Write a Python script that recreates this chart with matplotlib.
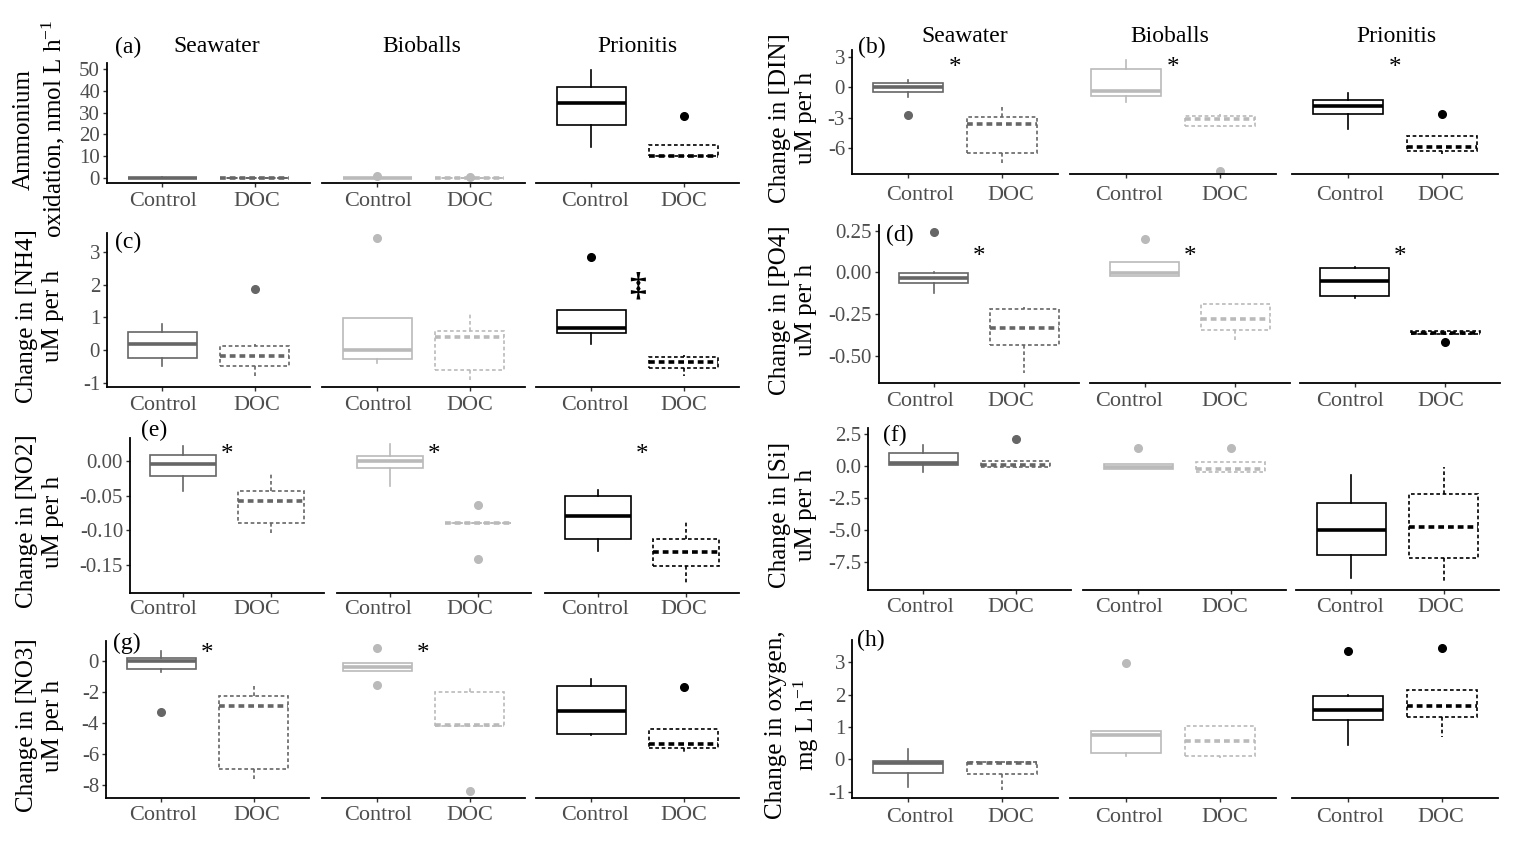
import matplotlib
matplotlib.use("Agg")
import matplotlib.pyplot as plt
from matplotlib.ticker import FormatStrFormatter

# serif text like the original figure, with a serif mathtext for the h^-1 exponents
plt.rcParams["font.family"] = ["Liberation Serif", "DejaVu Serif"]
plt.rcParams["mathtext.fontset"] = "custom"
plt.rcParams["mathtext.rm"] = "Liberation Serif"
plt.rcParams["mathtext.it"] = "Liberation Serif:italic"
plt.rcParams["mathtext.bf"] = "Liberation Serif:bold"
plt.rcParams["axes.unicode_minus"] = False

W, H = 1518, 843

GROUPS = ["Seawater", "Bioballs", "Prionitis"]
TREATMENTS = ["Control", "DOC"]

# Box rows: Seawater Control, Seawater DOC, Bioballs Control, Bioballs DOC,
# Prionitis Control, Prionitis DOC.  Columns: whisker low, q1, median, q3, whisker high
AMMOX_BOX = [
    [-0.2, -0.1, 0.0, 0.2, 0.3],
    [-0.2, -0.1, 0.0, 0.2, 0.3],
    [-0.2, -0.1, 0.0, 0.2, 0.3],
    [-0.2, -0.1, 0.0, 0.2, 0.3],
    [14.2, 24.1, 34.2, 41.8, 49.5],
    [10.0, 10.0, 10.3, 15.3, 15.3],
]
AMMOX_OUT = [[], [], [1.0], [0.5], [], [28.6]]
AMMOX_TICKS = [0, 10, 20, 30, 40, 50]

DIN_BOX = [
    [-0.93, -0.43, 0.0, 0.47, 0.73],
    [-7.6, -6.43, -3.6, -2.93, -1.87],
    [-1.43, -0.83, -0.33, 1.83, 2.73],
    [-3.9, -3.77, -3.1, -2.87, -2.6],
    [-4.1, -2.67, -1.87, -1.27, -0.53],
    [-6.53, -6.27, -5.83, -4.77, -4.77],
]
DIN_OUT = [[-2.77], [], [], [-8.27], [], [-2.6]]
DIN_TICKS = [-6, -3, 0, 3]
DIN_SIG = [(0, 2.5, "*"), (1, 2.5, "*"), (2, 2.5, "*")]

NH4_BOX = [
    [-0.49, -0.23, 0.18, 0.54, 0.8],
    [-0.84, -0.48, -0.18, 0.12, 0.2],
    [-0.39, -0.26, 0.0, 0.99, 0.99],
    [-0.92, -0.61, 0.39, 0.59, 1.14],
    [0.18, 0.53, 0.68, 1.24, 1.24],
    [-0.8, -0.56, -0.38, -0.22, -0.15],
]
NH4_OUT = [[], [1.88], [3.42], [], [2.84], []]
NH4_TICKS = [-1, 0, 1, 2, 3]
NH4_SIG = [(2, 1.95, "\u2021")]

PO4_BOX = [
    [-0.122, -0.062, -0.036, -0.006, 0.0],
    [-0.602, -0.436, -0.336, -0.222, -0.21],
    [-0.02, -0.02, -0.006, 0.06, 0.06],
    [-0.416, -0.346, -0.28, -0.19, -0.19],
    [-0.156, -0.142, -0.052, 0.024, 0.034],
    [-0.37, -0.37, -0.362, -0.35, -0.35],
]
PO4_OUT = [[0.244], [], [0.198], [], [], [-0.42]]
PO4_TICKS = [-0.5, -0.25, 0.0, 0.25]
PO4_SIG = [(0, 0.13, "*"), (1, 0.13, "*"), (2, 0.13, "*")]

NO2_BOX = [
    [-0.043, -0.021, -0.0043, 0.0087, 0.022],
    [-0.106, -0.09, -0.058, -0.044, -0.018],
    [-0.036, -0.0106, 0.0, 0.0077, 0.024],
    [-0.09, -0.09, -0.09, -0.09, -0.09],
    [-0.13, -0.1125, -0.08, -0.05, -0.042],
    [-0.178, -0.151, -0.131, -0.1125, -0.085],
]
NO2_OUT = [[], [], [], [-0.064, -0.141], [], []]
NO2_TICKS = [-0.15, -0.10, -0.05, 0.0]
NO2_SIG = [(0, 0.018, "*"), (1, 0.018, "*"), (2, 0.018, "*")]

SI_BOX = [
    [-0.52, 0.05, 0.18, 0.96, 1.6],
    [-0.16, -0.08, 0.05, 0.36, 0.36],
    [-0.26, -0.26, -0.08, 0.13, 0.13],
    [-0.47, -0.47, -0.26, 0.26, 0.26],
    [-8.7, -6.94, -5.0, -2.93, -0.73],
    [-9.15, -7.2, -4.74, -2.23, -0.08],
]
SI_OUT = [[], [2.07], [1.35], [1.35], [], []]
SI_TICKS = [-7.5, -5.0, -2.5, 0.0, 2.5]

NO3_BOX = [
    [-0.75, -0.54, -0.02, 0.15, 0.62],
    [-7.68, -6.97, -2.92, -2.25, -1.57],
    [-0.64, -0.64, -0.43, -0.17, -0.17],
    [-4.18, -4.18, -4.14, -2.0, -1.78],
    [-4.79, -4.72, -3.24, -1.63, -1.18],
    [-5.86, -5.64, -5.36, -4.4, -4.4],
]
NO3_OUT = [[-3.33], [], [0.79, -1.57], [-8.39], [], [-1.72]]
NO3_TICKS = [-8, -6, -4, -2, 0]
NO3_SIG = [(0, 0.84, "*"), (1, 0.84, "*")]

OXY_BOX = [
    [-0.85, -0.43, -0.12, -0.07, 0.32],
    [-0.95, -0.46, -0.12, -0.1, -0.1],
    [0.1, 0.19, 0.75, 0.86, 0.86],
    [0.05, 0.1, 0.57, 1.04, 1.04],
    [0.44, 1.22, 1.53, 1.97, 1.99],
    [0.7, 1.32, 1.65, 2.14, 2.14],
]
OXY_OUT = [[], [], [2.97], [], [3.35], [3.43]]
OXY_TICKS = [-1, 0, 1, 2, 3]

YLABELS = {
    "a": "Ammonium\noxidation, nmol L h$^{-1}$",
    "b": "Change in [DIN]\nuM per h",
    "c": "Change in [NH4]\nuM per h",
    "d": "Change in [PO4]\nuM per h",
    "e": "Change in [NO2]\nuM per h",
    "f": "Change in [Si]\nuM per h",
    "g": "Change in [NO3]\nuM per h",
    "h": "Change in oxygen,\nmg L h$^{-1}$",
}

# which data goes in which panel, and how its y ticks are printed
PANELS = [
    ("a", AMMOX_BOX, AMMOX_OUT, AMMOX_TICKS, "%g", []),
    ("b", DIN_BOX, DIN_OUT, DIN_TICKS, "%g", DIN_SIG),
    ("c", NH4_BOX, NH4_OUT, NH4_TICKS, "%g", NH4_SIG),
    ("d", PO4_BOX, PO4_OUT, PO4_TICKS, "%.2f", PO4_SIG),
    ("e", NO2_BOX, NO2_OUT, NO2_TICKS, "%.2f", NO2_SIG),
    ("f", SI_BOX, SI_OUT, SI_TICKS, "%.1f", []),
    ("g", NO3_BOX, NO3_OUT, NO3_TICKS, "%g", NO3_SIG),
    ("h", OXY_BOX, OXY_OUT, OXY_TICKS, "%g", []),
]

# pixel layout of each panel (facet left edges, facet width, top, bottom), axis limits,
# and where the loose labels of that panel sit
LAYOUT = {
    "a": dict(starts=[107, 322, 536], width=203, top=63, bottom=183, ylim=(-2.3, 52.7),
              col=0, xlab_y=202, letter=(128, 47)),
    "b": dict(starts=[852, 1070, 1292], width=206, top=50, bottom=174, ylim=(-8.53, 3.67),
              col=1, xlab_y=195, letter=(872, 47)),
    "c": dict(starts=[107, 322, 536], width=203, top=233, bottom=387, ylim=(-1.13, 3.58),
              col=0, xlab_y=406, letter=(128, 242)),
    "d": dict(starts=[879, 1090, 1300], width=200, top=225, bottom=383, ylim=(-0.664, 0.284),
              col=1, xlab_y=401, letter=(900, 235)),
    "e": dict(starts=[130, 337, 545], width=194, top=438, bottom=593, ylim=(-0.1905, 0.0332),
              col=0, xlab_y=609, letter=(154, 430)),
    "f": dict(starts=[868, 1083, 1296], width=203, top=428, bottom=590, ylim=(-9.66, 2.93),
              col=1, xlab_y=608, letter=(895, 435)),
    "g": dict(starts=[106, 322, 536], width=203, top=641, bottom=798, ylim=(-8.84, 1.27),
              col=0, xlab_y=816, letter=(127, 643)),
    "h": dict(starts=[852, 1070, 1292], width=206, top=640, bottom=798, ylim=(-1.2, 3.69),
              col=1, xlab_y=817, letter=(871, 640)),
}

# x positions of the category labels, strip titles and y labels per column
XLAB_X = [
    [[163, 257], [378, 470], [595, 684]],
    [[920, 1011], [1129, 1225], [1350, 1441]],
]
STRIP_POS = [[(217, 47), (422, 47), (637, 47)], [(965, 37), (1170, 37), (1396, 37)]]
YLAB_X = [40, 793]

GROUP_COLORS = ["#666666", "#bababa", "#000000"]
TICK_GREY = "#4d4d4d"


def fx(px):
    return px / W


def fy(py):
    return 1 - py / H


def draw_boxes(axes, box, out):
    # one bxp call per box so each can have its own colour and dash style
    for i, (row, fliers) in enumerate(zip(box, out)):
        g, t = divmod(i, 2)
        lo, q1, med, q3, hi = row
        c = GROUP_COLORS[g]
        ls = "-" if t == 0 else (0, (2.2, 1.6))
        mls = "-" if t == 0 else (0, (1.6, 1.1))
        stats = [dict(whislo=lo, q1=q1, med=med, q3=q3, whishi=hi, fliers=fliers)]
        axes[g].bxp(
            stats, positions=[t + 1], widths=0.75, showcaps=False, patch_artist=True,
            manage_ticks=False,
            boxprops=dict(facecolor="white", edgecolor=c, linewidth=1.2, linestyle=ls),
            whiskerprops=dict(color=c, linewidth=1.2, linestyle=ls),
            medianprops=dict(color=c, linewidth=2.6, linestyle=mls, solid_capstyle="butt"),
            flierprops=dict(marker="o", markerfacecolor=c, markeredgecolor=c,
                            markersize=5.5, linestyle="none"),
        )


fig = plt.figure(figsize=(W / 100, H / 100), dpi=100)
fig.patch.set_facecolor("white")

for key, box, out, ticks, fmt, sig in PANELS:
    lay = LAYOUT[key]
    col = lay["col"]
    axes = []
    for j, x0 in enumerate(lay["starts"]):
        ax = fig.add_axes([fx(x0), fy(lay["bottom"]), lay["width"] / W,
                           (lay["bottom"] - lay["top"]) / H])
        ax.set_xlim(0.4, 2.6)
        ax.set_ylim(*lay["ylim"])
        ax.set_facecolor("none")
        for side in ["top", "right"]:
            ax.spines[side].set_visible(False)
        ax.spines["bottom"].set_linewidth(1.3)
        ax.spines["left"].set_linewidth(1.3)
        ax.set_xticks([1, 2])
        ax.set_xticklabels([])
        ax.tick_params(axis="x", length=3, width=1, color="#333333")
        if j == 0:
            ax.set_yticks(ticks)
            ax.yaxis.set_major_formatter(FormatStrFormatter(fmt))
            ax.tick_params(axis="y", length=3, width=1, color="#333333", pad=2,
                           labelsize=15, labelcolor=TICK_GREY)
        else:
            ax.spines["left"].set_visible(False)
            ax.tick_params(axis="y", left=False, labelleft=False)
        axes.append(ax)

    draw_boxes(axes, box, out)

    # significance marks sit between the two boxes of a facet
    for g, yv, sym in sig:
        if sym == "*":
            axes[g].annotate(sym, xy=(1.5, yv), xytext=(0, -9), textcoords="offset points",
                             ha="center", va="baseline", fontsize=18, color="black",
                             annotation_clip=False)
        else:
            axes[g].annotate(sym, xy=(1.5, yv), xytext=(0, -6.5), textcoords="offset points",
                             ha="center", va="baseline", fontsize=24, fontweight="bold",
                             color="black", annotation_clip=False)

    # category labels under each facet
    for j in range(3):
        for t, name in enumerate(TREATMENTS):
            fig.text(fx(XLAB_X[col][j][t]), fy(lay["xlab_y"]), name, ha="center",
                     va="center", fontsize=16, color=TICK_GREY)

    fig.text(fx(lay["letter"][0]), fy(lay["letter"][1]), "(" + key + ")", ha="center",
             va="center", fontsize=17, color="black")

    ymid = (lay["top"] + lay["bottom"]) / 2 + 6
    fig.text(fx(YLAB_X[col]), fy(ymid), YLABELS[key], rotation=90, ha="center",
             va="center", multialignment="center", linespacing=1.2, fontsize=18,
             color="black")

# facet titles only above the top row
for col in range(2):
    for j, name in enumerate(GROUPS):
        x, y = STRIP_POS[col][j]
        fig.text(fx(x), fy(y), name, ha="center", va="center", fontsize=17, color="black")

fig.savefig("out.png", dpi=100, facecolor="white")
